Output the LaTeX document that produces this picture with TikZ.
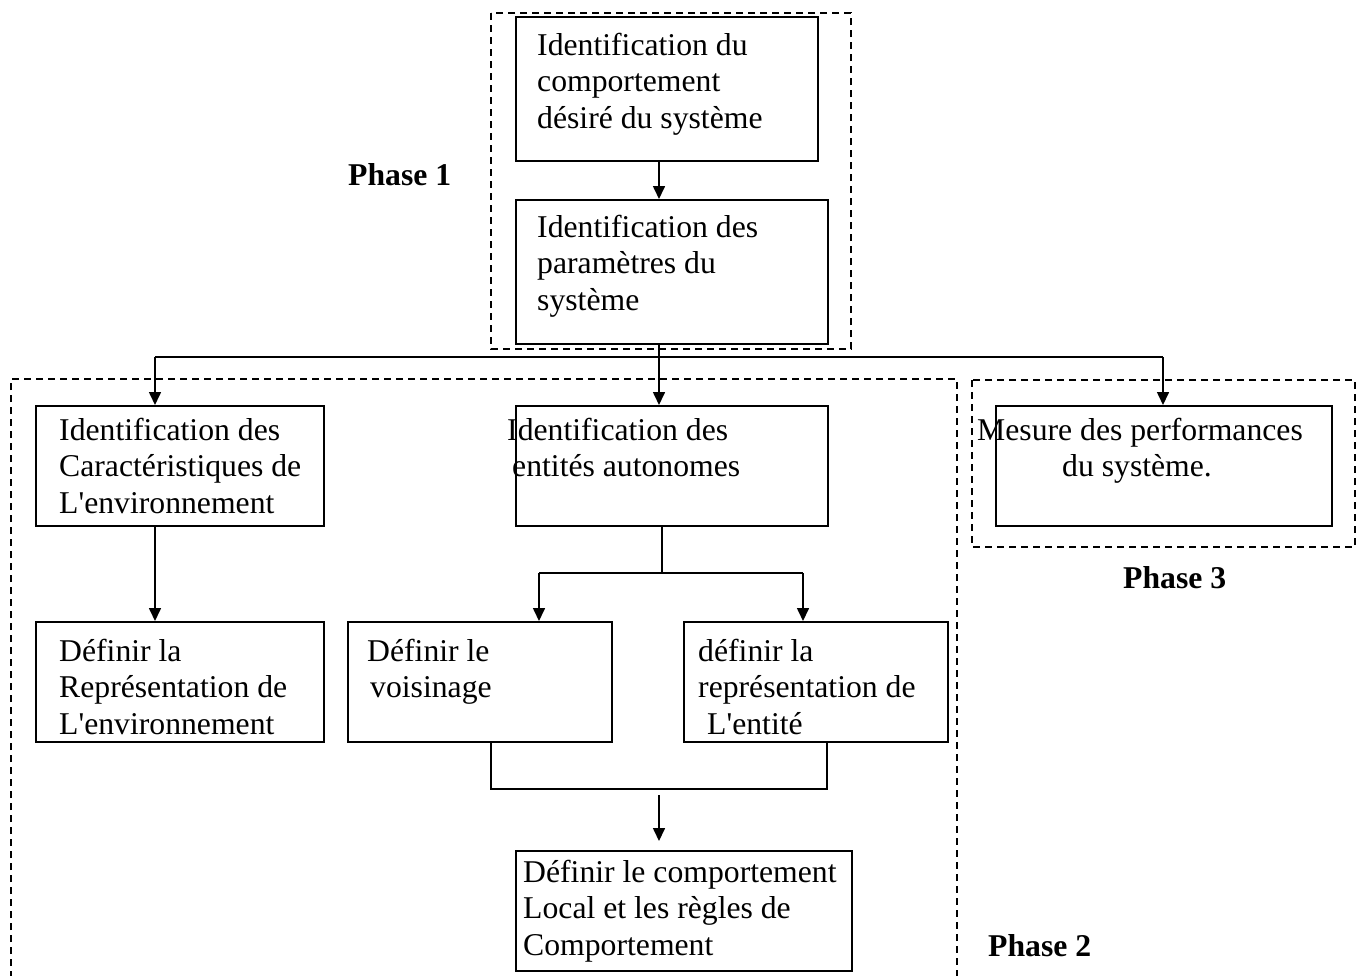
\documentclass[tikz,border=0pt]{standalone}
\usepackage{fontspec}
\setmainfont{Liberation Serif}[Ligatures=TeXOff]
\usetikzlibrary{arrows.meta}
\begin{document}
\begin{tikzpicture}[x=1pt,y=-1pt,
  box/.style={draw,line width=1.6pt,rectangle,inner sep=0pt,anchor=north west},
  % multi-line texts are anchored on the baseline of their last line
  txt/.style={anchor=base west,inner sep=0pt,align=left,font=\fontsize{31.7}{36.8}\selectfont},
  phase/.style={anchor=base west,inner sep=0pt,font=\fontsize{31.7}{36.8}\selectfont\bfseries},
  frame/.style={line width=1.5pt,dash pattern=on 7pt off 5pt},
  link/.style={line width=1.6pt},
  arr/.style={link,-{Triangle[length=13pt,width=12pt]}}]
\useasboundingbox (0,0) rectangle (1362,975);

% phase frames
\draw[frame] (491,13) rectangle (851,349);
\draw[frame] (11,990) -- (11,379) -- (957,379) -- (957,990);
\draw[frame] (972,380) rectangle (1355,547);

% boxes
\node[box,minimum width=302pt,minimum height=144pt] (A) at (515,16) {};
\node[box,minimum width=312pt,minimum height=144pt] (B) at (515,199) {};
\node[box,minimum width=288pt,minimum height=120pt] (C) at (35,405) {};
\node[box,minimum width=312pt,minimum height=120pt] (D) at (515,405) {};
\node[box,minimum width=336pt,minimum height=120pt] (F) at (995,405) {};
\node[box,minimum width=288pt,minimum height=120pt] (E) at (35,621) {};
\node[box,minimum width=264pt,minimum height=120pt] (G) at (347,621) {};
\node[box,minimum width=264pt,minimum height=120pt] (H) at (683,621) {};
\node[box,minimum width=336pt,minimum height=120pt] (I) at (515,850) {};

% box texts
\node[txt] (At) at (537,128.6) {Identification du\\comportement\\désiré du système};
\node[txt] (Bt) at (537,310.6) {Identification des\\paramètres du\\système};
\node[txt] (Ct) at (59,513.6) {Identification des\\Caractéristiques de\\L'environnement};
\node[txt] (Dt) at (507,476.8) {Identification des\\\hspace*{5pt}entités autonomes};
\node[txt] (Ft) at (977,476.8) {Mesure des performances\\\hspace*{85pt}du système.};
\node[txt] (Et) at (59,734.6) {Définir la\\Représentation de\\L'environnement};
\node[txt] (Gt) at (367,697.8) {Définir le\\\hspace*{3pt}voisinage};
\node[txt] (Ht) at (698,734.6) {définir la\\représentation de\\\hspace*{9pt}L'entité};
\node[txt] (It) at (523,955.6) {Définir le comportement\\Local et les règles de\\Comportement};

% phase labels
\node[phase] (p1) at (348,185) {Phase 1};
\node[phase] (p3) at (1123,588) {Phase 3};
\node[phase] (p2) at (988,956) {Phase 2};

% guide coordinates for the connectors
\coordinate (bus) at (0,357);
\coordinate (split) at (0,573);
\coordinate (join) at (0,789);
\coordinate (colC) at (155,0);
\coordinate (colD) at (659,0);
\coordinate (colD2) at (662,0);
\coordinate (colF) at (1163,0);
\coordinate (colG) at (539,0);
\coordinate (colH) at (803,0);
\coordinate (colG2) at (491,0);
\coordinate (colH2) at (827,0);
\coordinate (drop) at (659,795);

% connectors
\draw[arr] (A.south -| colD) -- (B.north -| colD);
\draw[link] (B.south -| colD) -- (bus -| colD);
\draw[link] (bus -| colC) -- (bus -| colF);
\draw[arr] (bus -| colC) -- (C.north -| colC);
\draw[arr] (bus -| colD) -- (D.north -| colD);
\draw[arr] (bus -| colF) -- (F.north -| colF);
\draw[arr] (C.south -| colC) -- (E.north -| colC);
\draw[link] (D.south -| colD2) -- (split -| colD2);
\draw[link] (split -| colG) -- (split -| colH);
\draw[arr] (split -| colG) -- (G.north -| colG);
\draw[arr] (split -| colH) -- (H.north -| colH);
\draw[link] (G.south -| colG2) -- (join -| colG2) -- (join -| colH2) -- (H.south -| colH2);
\draw[arr] (drop) -- ([yshift=9pt]I.north -| drop);
\end{tikzpicture}
\end{document}
